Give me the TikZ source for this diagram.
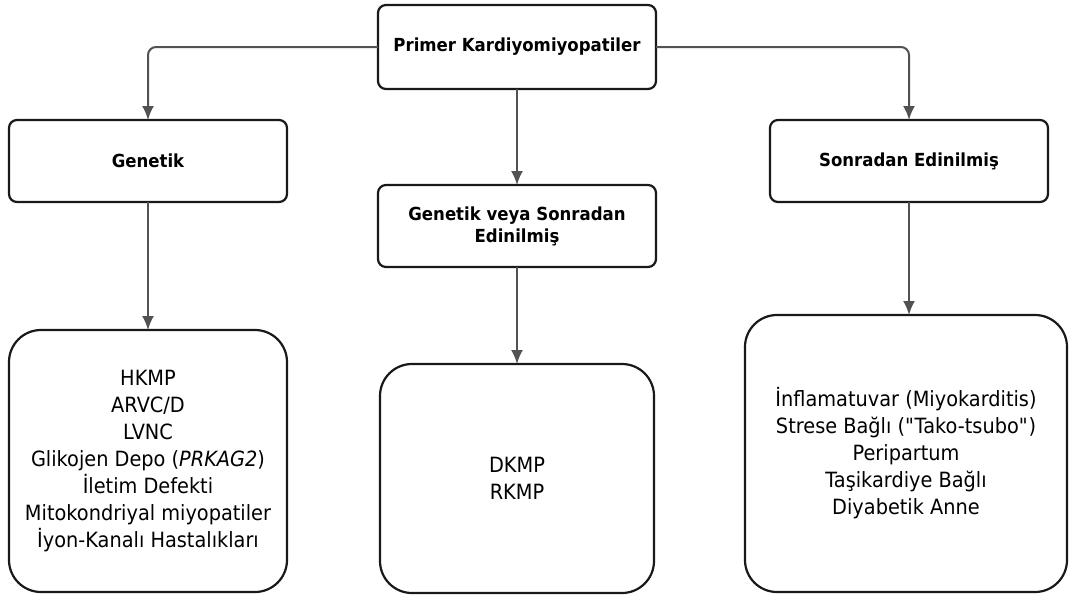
\documentclass[tikz,border=0pt]{standalone}
\usepackage{fontspec}
\setmainfont{DejaVu Sans}[FakeStretch=0.92]
\usetikzlibrary{positioning, shapes, arrows.meta}

\begin{document}
\begin{tikzpicture}[->,>={Latex[length=14pt,width=12pt]}, x=1pt, y=-1pt,
  box/.style={draw=black!90, line width=2.2pt, rounded corners=8pt, fill=white,
    inner sep=0pt, outer sep=0pt, align=center,
    font=\bfseries\fontsize{18}{22}\selectfont},
  list/.style={box, rounded corners=32pt, font=\fontsize{21}{27}\selectfont},
  link/.style={draw=black!68, line width=2pt, rounded corners=8pt}]
  \useasboundingbox (0,0) rectangle (1069,597);

  % Create nodes
  \node[box, minimum width=278pt, minimum height=84pt] (prim) at (517,47) {Primer Kardiyomiyopatiler};
  \node[box, minimum width=278pt, minimum height=82pt] (gen) at (148,161) {Genetik};
  \node[box, minimum width=278pt, minimum height=82pt] (son) at (909,161) {Sonradan Edinilmiş};
  \node[box, minimum width=278pt, minimum height=82pt] (mix) [below = 96pt of prim] {Genetik veya Sonradan\\Edinilmiş};

  \node[list, minimum width=278pt, minimum height=262pt] (genL) [below = 128pt of gen]
    {HKMP\\ARVC/D\\LVNC\\Glikojen Depo (\textit{PRKAG2})\\İletim Defekti\\Mitokondriyal miyopatiler\\İyon-Kanalı Hastalıkları};
  \node[list, minimum width=274pt, minimum height=229pt] (mixL) [below = 97pt of mix] {DKMP\\RKMP};
  \node[list, minimum width=322pt, minimum height=277pt] (sonL) [below = 113pt of son, xshift=-3pt]
    {İnflamatuvar (Miyokarditis)\\Strese Bağlı (\textquotedbl Tako-tsubo\textquotedbl)\\Peripartum\\Taşikardiye Bağlı\\Diyabetik Anne};

  %
  \draw[link] (prim.west) -| (gen.north);
  \draw[link] (prim.east) -| (son.north);
  \draw[link] (prim) -- (mix);
  \draw[link] (gen) -- (genL);
  \draw[link] (mix) -- (mixL);
  \draw[link] (son.south) -- (son.south |- sonL.north);
\end{tikzpicture}
\end{document}
